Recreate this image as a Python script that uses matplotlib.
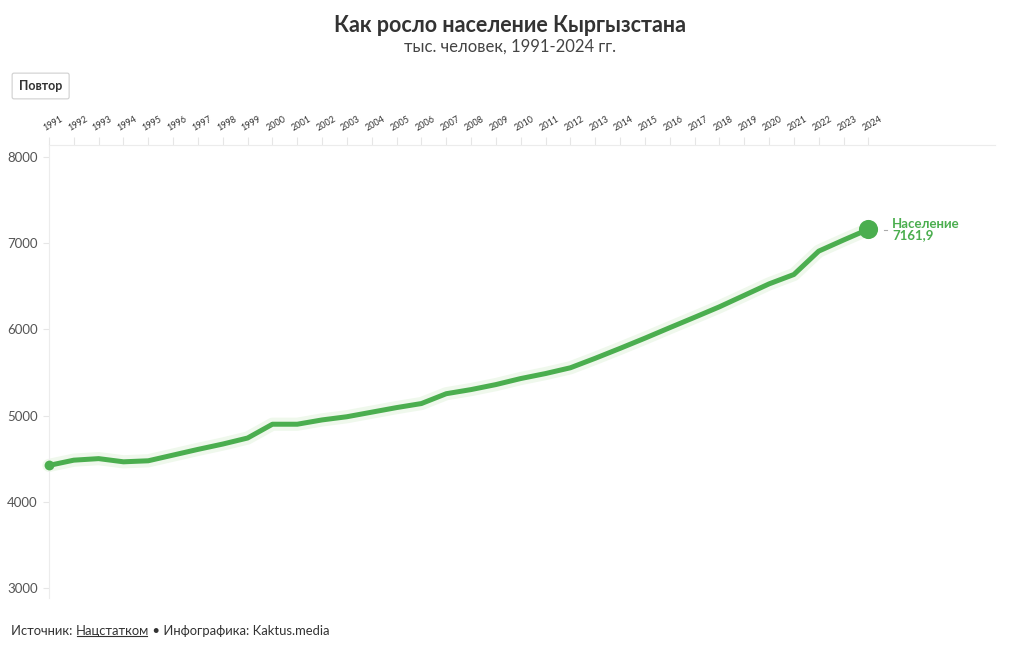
import matplotlib
matplotlib.use("Agg")
import matplotlib.pyplot as plt
import matplotlib.transforms as mtransforms

plt.rcParams['font.family'] = ['Lato', 'Open Sans', 'DejaVu Sans']

years = list(range(1991, 2025))
population = [4422.2, 4483, 4501, 4464, 4476, 4542, 4608, 4670, 4740, 4900,
              4900, 4950, 4987, 5040, 5093, 5140, 5254, 5302, 5360, 5430,
              5488, 5555, 5665, 5780, 5898, 6020, 6140, 6262, 6395, 6528,
              6637, 6908, 7037, 7161.9]
y_ticks = [3000, 4000, 5000, 6000, 7000, 8000]
series_name = "Население"
last_label = "7161,9"

GREEN = "#4bae4f"
HALO = "#eff8ec"

fig = plt.figure(figsize=(10.2, 6.5), dpi=100)
ax = fig.add_axes([0.048, 0.08, 0.9275, 0.697])

ax.plot(years, population, color=HALO, lw=9.5, solid_capstyle='round',
        solid_joinstyle='round', zorder=2, clip_on=False)
ax.plot(years, population, color=GREEN, lw=3.6, solid_capstyle='butt',
        solid_joinstyle='round', zorder=3, clip_on=False)
ax.scatter([years[0]], [population[0]], s=50, color=GREEN, zorder=4,
           linewidths=0, clip_on=False)
ax.scatter([years[-1]], [population[-1]], s=190, color=GREEN, zorder=4,
           linewidths=0, clip_on=False)

ax.set_xlim(1991, 2029.1)
ax.set_ylim(2884, 8140)

ax.xaxis.tick_top()
ax.set_xticks(years)
ax.set_xticklabels([str(y) for y in years], rotation=30, ha='left', va='bottom',
                   rotation_mode='anchor', fontsize=6.5, color='#333')
ax.tick_params(axis='x', which='major', length=6, width=0.8, color='#e6e6e6',
               pad=3, top=True, bottom=False)
offset = mtransforms.ScaledTranslation(-3/100, 0, fig.dpi_scale_trans)
for lbl in ax.get_xticklabels():
    lbl.set_transform(lbl.get_transform() + offset)

ax.set_yticks(y_ticks)
ax.set_yticklabels([str(v) for v in y_ticks], fontsize=9.5, color='#555')
ax.tick_params(axis='y', length=4, width=0.8, color='#e6e6e6', pad=4)

for s in ['right', 'bottom']:
    ax.spines[s].set_visible(False)
ax.spines['top'].set_color('#ececec')
ax.spines['left'].set_color('#ececec')
ax.spines['top'].set_linewidth(0.8)
ax.spines['left'].set_linewidth(0.8)

# end label
ax.annotate(series_name + "\n" + last_label, xy=(years[-1], population[-1]),
            xytext=(17, 0), textcoords='offset points', fontsize=9.5,
            fontweight='bold', color=GREEN, va='center', ha='left',
            linespacing=0.95)
ax.plot([years[-1] + 0.62, years[-1] + 0.76], [population[-1] - 12] * 2,
        color='#aaa', lw=0.8, zorder=3)

# titles
fig.text(0.5, 1 - 25/650, "Как росло население Кыргызстана", ha='center',
         va='center', fontsize=15.5, fontweight='bold', color='#333')
fig.text(0.5, 1 - 47/650, "тыс. человек, 1991-2024 гг.", ha='center',
         va='center', fontsize=12, color='#444')

# button
fig.text(19/1020, 1 - 86/650, "Повтор", ha='left', va='center', fontsize=9,
         fontweight='bold', color='#333',
         bbox=dict(boxstyle='round,pad=0.55,rounding_size=0.15', fc='white',
                   ec='#cfcfcf', lw=0.8))

# footer
fy = 1 - 631/650
fs = 9.4
t1 = fig.text(11/1020, fy, "Источник: ", ha='left', va='center', fontsize=fs, color='#333')
fig.canvas.draw()
r = fig.canvas.get_renderer()
bb1 = t1.get_window_extent(r)
x2 = bb1.x1 / fig.bbox.width
t2 = fig.text(x2, fy, "Нацстатком", ha='left', va='center', fontsize=fs, color='#333')
fig.canvas.draw()
bb2 = t2.get_window_extent(r)
x3 = bb2.x1 / fig.bbox.width
fig.text(x3, fy, " • Инфографика: Kaktus.media", ha='left', va='center',
         fontsize=fs, color='#333')
uy = (bb2.y0 + 1) / fig.bbox.height
fig.add_artist(plt.Line2D([(bb2.x0 + 1) / fig.bbox.width, (bb2.x1 - 2) / fig.bbox.width],
                          [uy, uy], transform=fig.transFigure, color='#333', lw=0.8))

fig.savefig("out.png", dpi=100, facecolor='white')
